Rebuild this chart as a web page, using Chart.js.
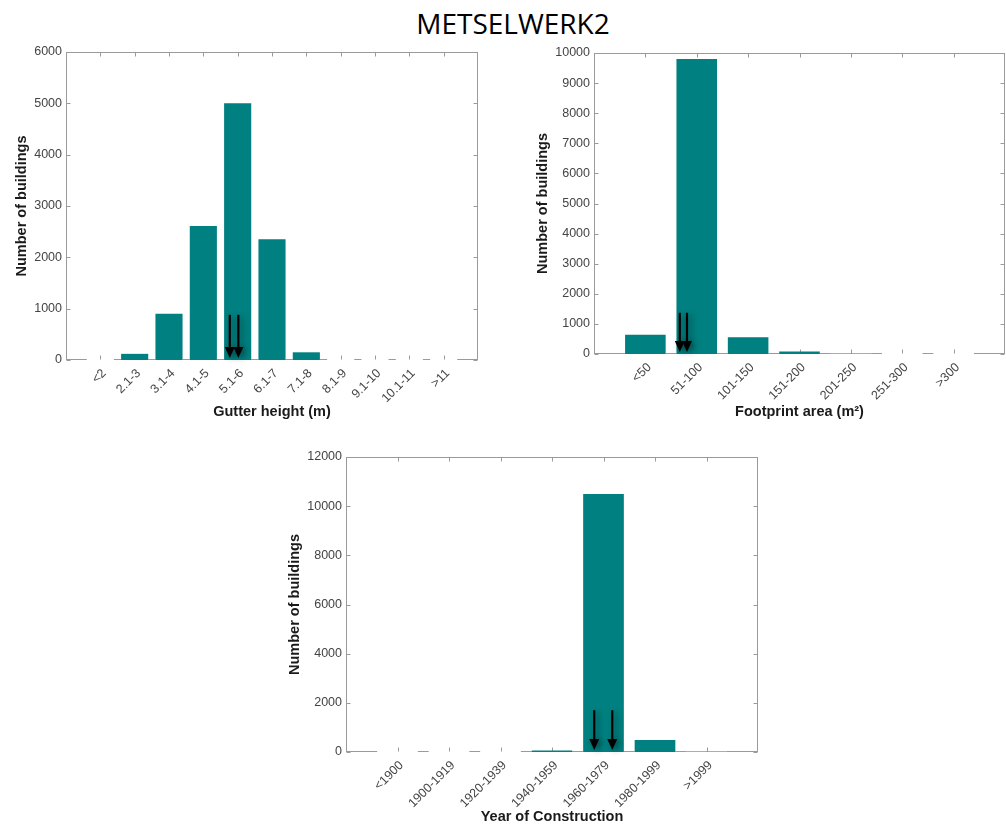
<!DOCTYPE html>
<html>
<head>
<meta charset="utf-8">
<script src="https://cdn.jsdelivr.net/npm/chart.js@4.4.1/dist/chart.umd.min.js"></script>
<style>
  body { margin: 0; background: #fff; width: 1006px; height: 828px; overflow: hidden; position: relative; }
  .title { position: absolute; left: 313px; top: 9px; width: 400px; text-align: center;
           font: 28px/28px "Open Sans", sans-serif; color: #000; }
  canvas { position: absolute; }
</style>
</head>
<body>
<div class="title">METSELWERK2</div>
<canvas id="gutter" width="490" height="390" style="left:0;top:40px"></canvas>
<canvas id="footprint" width="506" height="390" style="left:500px;top:40px"></canvas>
<canvas id="year" width="490" height="383" style="left:280px;top:445px"></canvas>
<script>
// data
const gutterLabels = ['<2', '2.1-3', '3.1-4', '4.1-5', '5.1-6', '6.1-7', '7.1-8', '8.1-9', '9.1-10', '10.1-11', '>11'];
const gutterCounts = [0, 120, 900, 2610, 5000, 2350, 150, 0, 0, 0, 0];

const footprintLabels = ['<50', '51-100', '101-150', '151-200', '201-250', '251-300', '>300'];
const footprintCounts = [640, 9800, 560, 80, 15, 0, 0];

const yearLabels = ['<1900', '1900-1919', '1920-1939', '1940-1959', '1960-1979', '1980-1999', '>1999'];
const yearCounts = [0, 0, 0, 65, 10500, 490, 20];

// the black arrows pasted on the figure: category, shift in bar widths, top value
const gutterArrows = [{ cat: 4, dx: -0.23, from: 880 }, { cat: 4, dx: 0.02, from: 880 }];
const footprintArrows = [{ cat: 1, dx: -0.33, from: 1370 }, { cat: 1, dx: -0.19, from: 1370 }];
const yearArrows = [{ cat: 4, dx: -0.18, from: 1700 }, { cat: 4, dx: 0.17, from: 1700 }];

Chart.defaults.font.family = '"Liberation Sans", Arial, sans-serif';

const teal = '#008080';

// matlab-ish box with inward ticks, and the white gaps the bars leave in the baseline
const frame = {
  id: 'frame',
  beforeDatasetsDraw(chart) {
    const { ctx, chartArea: a, scales: { x, y } } = chart;
    const L = Math.round(a.left) + 0.5, R = Math.round(a.right) - 0.5;
    const T = Math.round(a.top) + 0.5, B = Math.round(a.bottom) - 0.5;
    const values = chart.data.datasets[0].data;
    ctx.save();
    ctx.strokeStyle = '#9a9a9a';
    ctx.lineWidth = 1;
    ctx.strokeRect(L, T, R - L, B - T);

    ctx.fillStyle = '#fff';
    chart.getDatasetMeta(0).data.forEach((el, i) => {
      if (values[i] == null) return;
      ctx.fillRect(el.x - el.width / 2, B - 1.5, el.width, 3);
    });

    ctx.beginPath();
    y.ticks.forEach(t => {
      const py = Math.round(y.getPixelForValue(t.value)) + 0.5;
      ctx.moveTo(L, py); ctx.lineTo(L + 4, py);
      ctx.moveTo(R, py); ctx.lineTo(R - 4, py);
    });
    for (let i = 1; i < chart.data.labels.length - 1; i++) {
      const px = Math.round(x.getPixelForValue(i)) + 0.5;
      ctx.moveTo(px, T); ctx.lineTo(px, T + 4);
      ctx.moveTo(px, B); ctx.lineTo(px, B - 4);
    }
    ctx.stroke();
    ctx.restore();
  }
};

const arrows = {
  id: 'arrows',
  afterDatasetsDraw(chart, args, opts) {
    const { ctx, scales: { x, y } } = chart;
    const step = x.getPixelForValue(1) - x.getPixelForValue(0);
    ctx.save();
    ctx.shadowColor = 'rgba(0,0,0,0.45)';
    ctx.shadowBlur = 6;
    ctx.shadowOffsetX = 3;
    ctx.shadowOffsetY = 2;
    ctx.fillStyle = '#000';
    ctx.strokeStyle = '#000';
    ctx.lineWidth = 2.2;
    (opts.list || []).forEach(ar => {
      const px = x.getPixelForValue(ar.cat + 1) + ar.dx * step;
      const top = y.getPixelForValue(ar.from);
      const tip = y.getPixelForValue(0) - 2;
      ctx.beginPath();
      ctx.moveTo(px, top);
      ctx.lineTo(px, tip - 9);
      ctx.stroke();
      ctx.beginPath();
      ctx.moveTo(px - 5, tip - 11);
      ctx.lineTo(px + 5, tip - 11);
      ctx.lineTo(px, tip);
      ctx.closePath();
      ctx.fill();
    });
    ctx.restore();
  }
};

function histogram(id, labels, counts, o) {
  return new Chart(document.getElementById(id), {
    type: 'bar',
    data: {
      labels: ['', ...labels, ''],
      datasets: [{
        data: [null, ...counts, null],
        backgroundColor: teal,
        borderWidth: 0,
        barPercentage: 0.79,
        categoryPercentage: 1
      }]
    },
    options: {
      responsive: false,
      animation: false,
      layout: { padding: o.padding },
      plugins: {
        legend: { display: false },
        tooltip: { enabled: false },
        arrows: { list: o.arrows }
      },
      scales: {
        x: {
          offset: false,
          grid: { display: false, drawTicks: false },
          border: { display: false },
          ticks: { autoSkip: false, minRotation: 45, maxRotation: 45, padding: 6, labelOffset: 4,
                   color: '#444', font: { size: 12.5 } },
          title: { display: true, text: o.xTitle, color: '#1a1a1a', font: { size: 14.5, weight: 'bold' },
                   padding: { top: 0, bottom: o.xTitlePad } },
          afterFit(s) { s.height = o.xHeight; s.paddingLeft = 0; s.paddingRight = 0; }
        },
        y: {
          min: 0,
          max: o.yMax,
          grid: { display: false, drawTicks: false },
          border: { display: false },
          ticks: { stepSize: o.yStep, padding: 4, color: '#444', font: { size: 12.5 }, callback: v => String(v) },
          title: { display: true, text: 'Number of buildings', color: '#1a1a1a', font: { size: 14.5, weight: 'bold' },
                   padding: { top: o.yTitlePad, bottom: 0 } },
          afterFit(s) { s.width = o.yWidth; }
        }
      }
    },
    plugins: [frame, arrows]
  });
}

histogram('gutter', gutterLabels, gutterCounts, {
  padding: { top: 12, right: 12, bottom: 0, left: 0 },
  xTitle: 'Gutter height (m)', xTitlePad: 9.6, xHeight: 70,
  yMax: 6000, yStep: 1000, yWidth: 66, yTitlePad: 13,
  arrows: gutterArrows
});

histogram('footprint', footprintLabels, footprintCounts, {
  padding: { top: 13, right: 1, bottom: 0, left: 0 },
  xTitle: 'Footprint area (m²)', xTitlePad: 9, xHeight: 76,
  yMax: 10000, yStep: 1000, yWidth: 94, yTitlePad: 34,
  arrows: footprintArrows
});

histogram('year', yearLabels, yearCounts, {
  padding: { top: 12, right: 12, bottom: 0, left: 0 },
  xTitle: 'Year of Construction', xTitlePad: 2.6, xHeight: 76,
  yMax: 12000, yStep: 2000, yWidth: 66, yTitlePad: 6.3,
  arrows: yearArrows
});
</script>
</body>
</html>
